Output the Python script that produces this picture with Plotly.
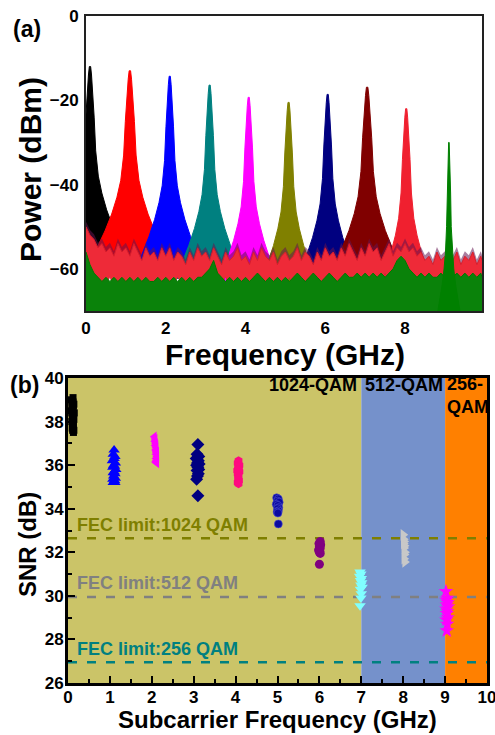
import numpy as np
import plotly.graph_objects as go

FONT = "Liberation Sans, Arial, sans-serif"

# ---------------- (a) electrical spectrum ----------------
peak_freq = [0.1, 1.1, 2.1, 3.1, 4.08, 5.08, 6.06, 7.05, 8.03, 9.1]
peak_power = [-12.0, -13.0, -14.3, -16.4, -19.3, -20.5, -18.6, -16.9, -22.0, -30.0]
peak_width = [1.1, 1.2, 1.0, 1.0, 1.0, 1.0, 1.0, 1.2, 1.0, 0.45]
peak_colors = ["#000000", "#FF0000", "#0000FF", "#008080", "#FF00FF",
               "#808000", "#000080", "#800000", "#F0202F", "#008000"]

# line shape of one subcarrier: drop below the peak (dB) vs half width (GHz)
profile_drop = [0, 2, 6, 12, 20, 26, 30, 34, 38, 42, 46]
profile_halfwidth = [0.015, 0.035, 0.065, 0.095, 0.13, 0.19, 0.27, 0.38, 0.52, 0.68, 0.85]

# noise floor envelope, 0.1 GHz steps
noise_freq = [round(0.1 * i, 1) for i in range(100)] + [9.93]
noise_top = [-50, -52, -53, -55, -54, -56, -55, -57, -54, -56,
             -55, -57, -54, -56, -58, -55, -57, -56, -58, -55,
             -57, -55, -58, -56, -57, -59, -56, -58, -55, -57,
             -56, -58, -55, -57, -59, -56, -58, -57, -55, -58,
             -57, -59, -56, -58, -55, -57, -58, -56, -59, -57,
             -56, -58, -57, -55, -58, -56, -57, -59, -56, -58,
             -55, -57, -56, -58, -55, -57, -54, -56, -58, -55,
             -57, -54, -56, -55, -58, -56, -54, -57, -55, -56,
             -54, -56, -55, -57, -56, -58, -57, -59, -56, -58,
             -57, -59, -58, -56, -59, -57, -58, -56, -59, -57, -58]
noise_bottom = [-62, -64, -63, -65, -63, -64, -62, -65, -64, -63,
                -65, -63, -64, -62, -65, -63, -64, -65, -63, -64,
                -63, -65, -64, -62, -64, -65, -63, -64, -62, -65,
                -64, -63, -65, -63, -64, -62, -65, -64, -63, -64,
                -65, -63, -64, -62, -63, -65, -64, -63, -65, -63,
                -64, -62, -65, -63, -64, -63, -62, -64, -63, -65,
                -63, -64, -62, -64, -63, -62, -64, -63, -62, -64,
                -62, -63, -64, -62, -63, -61, -63, -62, -64, -62,
                -63, -62, -64, -63, -62, -63, -64, -62, -63, -64,
                -62, -63, -64, -62, -63, -62, -64, -63, -62, -63, -62]
green_top = [-56, -59, -61, -62, -63, -62, -63, -62, -63, -62,
             -63, -62, -63, -62, -63, -62, -63, -63, -62, -63,
             -62, -63, -62, -63, -62, -63, -62, -63, -62, -62,
             -61, -60, -58, -61, -62, -63, -62, -63, -62, -63,
             -62, -63, -62, -61, -62, -63, -62, -63, -62, -63,
             -62, -63, -62, -61, -62, -63, -62, -61, -62, -63,
             -62, -61, -62, -63, -62, -61, -62, -62, -61, -62,
             -61, -62, -61, -62, -61, -62, -61, -60, -58, -57,
             -58, -60, -61, -62, -61, -62, -61, -62, -62, -61,
             -62, -61, -62, -61, -62, -61, -62, -61, -62, -61, -62]
fringe_offset = 1.2  # dark mixed-colour rim above the red noise

# ---------------- (b) SNR per subcarrier ----------------
black_f = [0.08, 0.12, 0.10, 0.14, 0.09, 0.13, 0.11, 0.08, 0.15, 0.12, 0.10,
           0.14, 0.09, 0.13, 0.11, 0.12, 0.10, 0.14, 0.11, 0.13, 0.09, 0.12]
black_snr = [39.0, 39.1, 38.9, 38.8, 38.8, 38.7, 38.6, 38.5, 38.4, 38.3, 38.2,
             38.1, 38.0, 37.9, 37.9, 37.8, 37.7, 37.6, 37.6, 37.5, 38.4, 38.9]
blue_f = [1.10, 1.08, 1.12, 1.10, 1.06, 1.13, 1.09, 1.11, 1.07, 1.14,
          1.10, 1.08, 1.12, 1.09, 1.13, 1.07, 1.11, 1.10, 1.08, 1.12]
blue_snr = [36.7, 36.5, 36.4, 36.3, 36.2, 36.1, 36.0, 35.95, 35.9, 35.8,
            35.7, 35.65, 35.6, 35.5, 35.4, 35.35, 35.3, 35.2, 35.2, 35.2]
mag_f = [2.06, 2.08, 2.07, 2.09, 2.08, 2.10, 2.09, 2.11,
         2.10, 2.12, 2.10, 2.11, 2.09, 2.12, 2.11, 2.10]
mag_snr = [37.3, 37.2, 37.1, 37.0, 36.9, 36.8, 36.7, 36.6,
           36.5, 36.4, 36.3, 36.2, 36.15, 36.1, 36.6, 36.9]
navy_f = [3.10, 3.08, 3.12, 3.06, 3.11, 3.09, 3.13, 3.07,
          3.10, 3.12, 3.08, 3.11, 3.09, 3.07, 3.10]
navy_snr = [36.95, 36.5, 36.4, 36.3, 36.2, 36.1, 36.05, 36.0,
            35.9, 35.8, 35.75, 35.6, 35.5, 35.35, 34.6]
pink_f = [4.07, 4.05, 4.09, 4.06, 4.08, 4.04, 4.09,
          4.05, 4.07, 4.06, 4.08, 4.05, 4.07, 4.06]
pink_snr = [36.2, 36.1, 36.0, 35.9, 35.8, 35.75, 35.7,
            35.6, 35.5, 35.4, 35.3, 35.2, 35.15, 35.8]
circ_f = [4.98, 5.02, 5.00, 5.04, 4.97, 5.01, 5.03, 5.00, 5.02, 4.99, 5.01, 5.02]
circ_snr = [34.5, 34.45, 34.35, 34.3, 34.2, 34.15, 34.05, 34.0, 33.9, 33.85, 33.8, 33.3]
purple_f = [6.02, 5.99, 6.03, 6.00, 6.02, 5.98, 6.01, 6.00, 6.02, 6.00]
purple_snr = [32.5, 32.4, 32.35, 32.25, 32.2, 32.1, 32.05, 32.0, 31.95, 31.45]
cyan_f = [6.97, 6.99, 6.96, 7.00, 6.98, 7.01, 6.99, 7.02, 6.98, 7.00, 6.99, 6.97]
cyan_snr = [31.1, 31.0, 30.9, 30.8, 30.7, 30.6, 30.5, 30.4, 30.3, 30.1, 29.9, 29.55]
gray_f = [8.00, 8.01, 8.02, 8.01, 8.03, 8.02, 8.04, 8.03, 8.02, 8.04]
gray_snr = [32.8, 32.6, 32.5, 32.4, 32.3, 32.2, 32.0, 31.9, 31.7, 31.55]
star_f = [9.02, 9.05, 9.03, 9.06, 9.04, 9.07, 9.03, 9.05, 9.04, 9.06, 9.03, 9.05, 9.04]
star_snr = [30.2, 29.9, 29.8, 29.7, 29.6, 29.5, 29.4, 29.3, 29.2, 29.0, 28.9, 28.7, 28.4]

fec_levels = [32.65, 29.95, 26.95]
fec_labels = ["FEC limit:1024 QAM", "FEC limit:512 QAM", "FEC limit:256 QAM"]
fec_colors = ["#7F7F00", "#808080", "#008080"]
band_edges = [0, 7, 9, 10]
band_colors = ["#CBC468", "#7591CB", "#FF8000"]

fig = go.Figure()

drop = np.array(profile_drop, dtype=float)
hw = np.array(profile_halfwidth, dtype=float)


def add_line_shape(f0, p0, wscale, col):
    xs = np.concatenate([f0 - wscale * hw[::-1], f0 + wscale * hw])
    ys = np.concatenate([p0 - drop[::-1], p0 - drop])
    fig.add_trace(go.Scatter(x=xs, y=ys, fill="toself", fillcolor=col, mode="lines",
                             line=dict(color=col, width=1), xaxis="x", yaxis="y",
                             hoverinfo="skip"))


# spectral lines (green one goes on top of the floor later)
for f0, p0, ws, col in zip(peak_freq, peak_power, peak_width, peak_colors):
    if col != "#008000":
        add_line_shape(f0, p0, ws, col)

# noise floor: dark rim then red band
rim = [v + fringe_offset for v in noise_top]
fig.add_trace(go.Scatter(x=noise_freq, y=noise_bottom, mode="lines", line=dict(width=0),
                         xaxis="x", yaxis="y", hoverinfo="skip"))
fig.add_trace(go.Scatter(x=noise_freq, y=rim, mode="lines", line=dict(width=0),
                         fill="tonexty", fillcolor="rgba(100,20,80,0.55)",
                         xaxis="x", yaxis="y", hoverinfo="skip"))
fig.add_trace(go.Scatter(x=noise_freq, y=noise_bottom, mode="lines", line=dict(width=0),
                         xaxis="x", yaxis="y", hoverinfo="skip"))
fig.add_trace(go.Scatter(x=noise_freq, y=noise_top, mode="lines",
                         line=dict(width=1, color="#D81E2C"),
                         fill="tonexty", fillcolor="#EE2A38",
                         xaxis="x", yaxis="y", hoverinfo="skip"))

# green trace: floor fill and its subcarrier line
floor = [-70] * len(noise_freq)
fig.add_trace(go.Scatter(x=noise_freq, y=floor, mode="lines", line=dict(width=0),
                         xaxis="x", yaxis="y", hoverinfo="skip"))
fig.add_trace(go.Scatter(x=noise_freq, y=green_top, mode="lines",
                         line=dict(width=1, color="#007A00"),
                         fill="tonexty", fillcolor="#0A820A",
                         xaxis="x", yaxis="y", hoverinfo="skip"))
g = peak_colors.index("#008000")
add_line_shape(peak_freq[g], peak_power[g], peak_width[g], "#008000")

# SNR markers
groups = [
    (black_f, black_snr, "square", "#000000", 7),
    (blue_f, blue_snr, "triangle-up", "#0000FF", 10),
    (mag_f, mag_snr, "triangle-left", "#FF00FF", 9),
    (navy_f, navy_snr, "diamond", "#000080", 10),
    (pink_f, pink_snr, "hexagon", "#FF0A80", 9),
    (circ_f, circ_snr, "circle", "#0A0AA0", 8),
    (purple_f, purple_snr, "circle", "#800080", 9),
    (cyan_f, cyan_snr, "triangle-down", "#80FFFF", 10),
    (gray_f, gray_snr, "triangle-right", "#C8C8C8", 10),
    (star_f, star_snr, "star", "#FF00FF", 11),
]
for fx, sy, sym, col, sz in groups:
    edge = 0.6 if col == "#0A0AA0" else 0
    fig.add_trace(go.Scatter(x=fx, y=sy, mode="markers", xaxis="x2", yaxis="y2",
                             marker=dict(symbol=sym, color=col, size=sz,
                                         line=dict(width=edge, color="#5050D0")),
                             hoverinfo="skip"))

shapes = []
for i, col in enumerate(band_colors):
    shapes.append(dict(type="rect", xref="x2", yref="y2", x0=band_edges[i], x1=band_edges[i + 1],
                       y0=26, y1=40, fillcolor=col, line=dict(width=0), layer="below"))
for lvl, col in zip(fec_levels, fec_colors):
    shapes.append(dict(type="line", xref="x2", yref="y2", x0=0, x1=10, y0=lvl, y1=lvl,
                       line=dict(color=col, width=2.5, dash="9px,10px"), layer="below"))


def txt(x, y, s, size, xref="paper", yref="paper", color="black", xanchor="center",
        yanchor="middle", angle=0, align="center"):
    return dict(x=x, y=y, xref=xref, yref=yref, text=f"<b>{s}</b>", showarrow=False,
                xanchor=xanchor, yanchor=yanchor, textangle=angle, align=align,
                font=dict(family=FONT, size=size, color=color))


annotations = []
for lvl, s, col in zip(fec_levels, fec_labels, fec_colors):
    annotations.append(txt(0.17, lvl + 0.62, s, 18, "x2", "y2", col, "left"))
annotations += [
    txt(6.95, 39.7, "1024-QAM", 18, "x2", "y2", xanchor="right"),
    txt(7.05, 39.7, "512-QAM", 18, "x2", "y2", xanchor="left"),
    txt(9.0, 39.2, "256-<br>QAM", 18, "x2", "y2", xanchor="left", align="left"),
    txt(11 / 495, 1 - 29 / 735, "(a)", 23, xanchor="left"),
    txt(8 / 495, 1 - 385 / 735, "(b)", 23, xanchor="left"),
    txt(30 / 495, 1 - 170 / 735, "Power (dBm)", 30, angle=-90),
    txt(285 / 495, 1 - 354 / 735, "Frequency (GHz)", 30),
    txt(27 / 495, 1 - 545 / 735, "SNR (dB)", 24, angle=-90),
    txt(277 / 495, 1 - 719 / 735, "Subcarrier Frequency (GHz)", 24),
]

tickfont = dict(family=FONT, size=17, color="black", weight="bold")
common = dict(showgrid=False, zeroline=False, showline=True, mirror=True,
              tickfont=tickfont, ticklabeloverflow="allow", automargin=False)

fig.update_layout(
    width=495, height=735, margin=dict(l=0, r=0, t=0, b=0, autoexpand=False),
    paper_bgcolor="white", plot_bgcolor="white", showlegend=False,
    font=dict(family=FONT, color="black"),
    shapes=shapes, annotations=annotations,
    xaxis=dict(domain=[86 / 495, 482 / 495], range=[0, 9.93], tickvals=[0, 2, 4, 6, 8],
               ticks="", linecolor="#222", linewidth=2, ticklabelstandoff=1,
               anchor="y", **common),
    yaxis=dict(domain=[1 - 311 / 735, 1 - 16 / 735], range=[-70, 0], tickvals=[0, -20, -40, -60],
               ticks="", linecolor="#222", linewidth=2, ticklabelstandoff=2,
               anchor="x", **common),
    xaxis2=dict(domain=[68 / 495, 487 / 495], range=[0, 10], dtick=1, tick0=0,
                ticks="inside", ticklen=7, tickwidth=2, tickcolor="black",
                minor=dict(ticks="inside", ticklen=4, tickwidth=1.5, dtick=0.5, tickcolor="black"),
                linecolor="black", linewidth=3, ticklabelstandoff=-3,
                anchor="y2", **common),
    yaxis2=dict(domain=[1 - 683 / 735, 1 - 378 / 735], range=[26, 40], dtick=2, tick0=26,
                ticks="inside", ticklen=7, tickwidth=2, tickcolor="black",
                minor=dict(ticks="inside", ticklen=4, tickwidth=1.5, dtick=1, tickcolor="black"),
                linecolor="black", linewidth=3, ticklabelstandoff=-2,
                anchor="x2", **common),
)

fig.write_html("out.html")
